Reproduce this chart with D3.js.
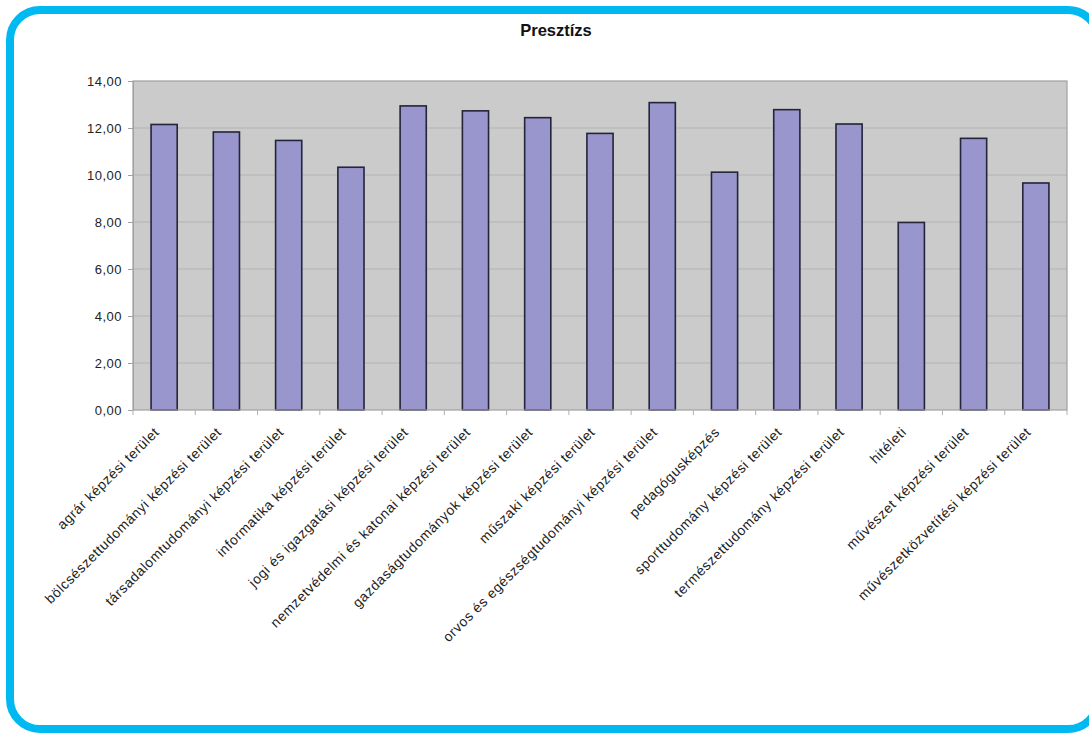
<!DOCTYPE html>
<html>
<head>
<meta charset="utf-8">
<script src="https://cdn.jsdelivr.net/npm/d3@7/dist/d3.min.js"></script>
<style>
  html, body { margin: 0; padding: 0; background: #fff; }
  svg { display: block; font-family: Arial, "Liberation Sans", sans-serif; }
</style>
</head>
<body>
<svg id="chart" width="1089" height="733"></svg>
<script>
// Képzési területek és presztízs pontszámok
const categories = [
  "agrár képzési terület",
  "bölcsészettudományi képzési terület",
  "társadalomtudományi képzési terület",
  "informatika képzési terület",
  "jogi és igazgatási képzési terület",
  "nemzetvédelmi és katonai képzési terület",
  "gazdaságtudományok képzési terület",
  "műszaki képzési terület",
  "orvos és egészségtudományi képzési terület",
  "pedagógusképzés",
  "sporttudomány képzési terület",
  "természettudomány képzési terület",
  "hitéleti",
  "művészet képzési terület",
  "művészetközvetítési képzési terület"
];
const values = [12.15, 11.83, 11.47, 10.33, 12.94, 12.73, 12.44, 11.77, 13.08, 10.12, 12.78, 12.17, 7.98, 11.56, 9.66];
const yTicks = [0, 2, 4, 6, 8, 10, 12, 14];
const title = "Presztízs";

const svg = d3.select("#chart");

// keret
svg.append("rect")
  .attr("x", 10).attr("y", 10)
  .attr("width", 1088).attr("height", 719)
  .attr("rx", 30).attr("ry", 30)
  .attr("fill", "none")
  .attr("stroke", "#00b9f0")
  .attr("stroke-width", 8);

const plot = { left: 133, top: 81, right: 1067, bottom: 410 };

const x = d3.scaleBand()
  .domain(categories)
  .range([plot.left, plot.right])
  .paddingInner(0.58)
  .paddingOuter(0.29);

const y = d3.scaleLinear()
  .domain([0, 14])
  .range([plot.bottom, plot.top]);

// cím
svg.append("text")
  .attr("x", 556).attr("y", 36)
  .attr("text-anchor", "middle")
  .attr("font-size", 16.5)
  .attr("font-weight", "bold")
  .attr("fill", "#111")
  .text(title);

// háttér
svg.append("rect")
  .attr("x", plot.left).attr("y", plot.top)
  .attr("width", plot.right - plot.left)
  .attr("height", plot.bottom - plot.top)
  .attr("fill", "#cbcbcb");

// rácsvonalak
svg.append("g")
  .selectAll("line")
  .data(yTicks.filter(d => d > 0 && d < 14))
  .join("line")
  .attr("x1", plot.left).attr("x2", plot.right)
  .attr("y1", d => y(d)).attr("y2", d => y(d))
  .attr("stroke", "#b3b3b3")
  .attr("stroke-width", 1);

// oszlopok
svg.append("g")
  .selectAll("rect")
  .data(values)
  .join("rect")
  .attr("x", (d, i) => x(categories[i]))
  .attr("y", d => y(d))
  .attr("width", x.bandwidth())
  .attr("height", d => y(0) - y(d))
  .attr("fill", "#9896cc")
  .attr("stroke", "#24243a")
  .attr("stroke-width", 1.6);

// keret a rajzterület körül
svg.append("rect")
  .attr("x", plot.left).attr("y", plot.top)
  .attr("width", plot.right - plot.left)
  .attr("height", plot.bottom - plot.top)
  .attr("fill", "none")
  .attr("stroke", "#a0a0a0")
  .attr("stroke-width", 1.2);

// y tengely
const yAxis = d3.axisLeft(y)
  .tickValues(yTicks)
  .tickSize(5)
  .tickPadding(6)
  .tickFormat(d => d3.format(".2f")(d).replace(".", ","));

const yg = svg.append("g")
  .attr("transform", `translate(${plot.left},0)`)
  .call(yAxis);
yg.select(".domain").attr("stroke", "#a0a0a0");
yg.selectAll(".tick line").attr("stroke", "#a0a0a0");
yg.selectAll(".tick text")
  .attr("font-size", 13)
  .attr("letter-spacing", 0.5)
  .attr("fill", "#222")
  .attr("font-family", "Arial, 'Liberation Sans', sans-serif");

// x tengely: osztásjelek a kategóriák között
const sepPositions = d3.range(categories.length + 1).map(i => plot.left + i * (plot.right - plot.left) / categories.length);
svg.append("g")
  .selectAll("line")
  .data(sepPositions)
  .join("line")
  .attr("x1", d => d).attr("x2", d => d)
  .attr("y1", plot.bottom).attr("y2", plot.bottom + 5)
  .attr("stroke", "#b0b0b0");

// x címkék, elforgatva
svg.append("g")
  .selectAll("text")
  .data(categories)
  .join("text")
  .attr("transform", d => `translate(${x(d) + x.bandwidth() / 2 - 4},${plot.bottom + 23}) rotate(-45)`)
  .attr("text-anchor", "end")
  .attr("font-size", 13.8)
  .attr("letter-spacing", 0.6)
  .attr("fill", "#222")
  .text(d => d);
</script>
</body>
</html>
